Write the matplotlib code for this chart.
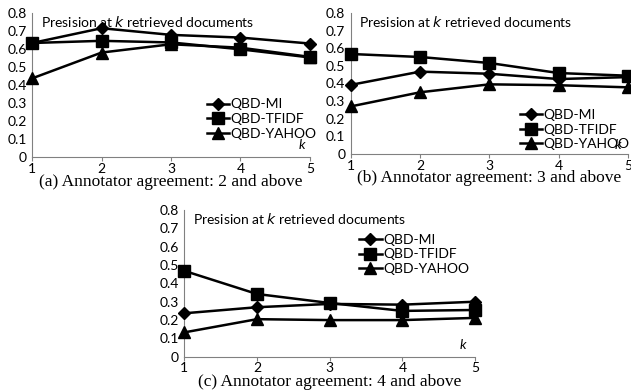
import matplotlib
matplotlib.use("Agg")
import matplotlib.pyplot as plt

k = [1, 2, 3, 4, 5]
series = ["QBD-MI", "QBD-TFIDF", "QBD-YAHOO"]
markers = ["D", "s", "^"]
msizes = [6, 8, 8]

# (a) agreement 2 and above
a_mi = [0.633, 0.715, 0.678, 0.663, 0.630]
a_tfidf = [0.633, 0.645, 0.636, 0.598, 0.553]
a_yahoo = [0.437, 0.580, 0.626, 0.607, 0.556]
# (b) agreement 3 and above
b_mi = [0.392, 0.467, 0.455, 0.425, 0.436]
b_tfidf = [0.567, 0.550, 0.516, 0.459, 0.444]
b_yahoo = [0.270, 0.350, 0.395, 0.390, 0.378]
# (c) agreement 4 and above
c_mi = [0.237, 0.270, 0.288, 0.284, 0.300]
c_tfidf = [0.468, 0.342, 0.293, 0.250, 0.255]
c_yahoo = [0.133, 0.205, 0.200, 0.200, 0.212]

yticks = [0, 0.1, 0.2, 0.3, 0.4, 0.5, 0.6, 0.7, 0.8]
ylabels = ["0", "0.1", "0.2", "0.3", "0.4", "0.5", "0.6", "0.7", "0.8"]

captions = ["(a) Annotator agreement: 2 and above",
            "(b) Annotator agreement: 3 and above",
            "(c) Annotator agreement: 4 and above"]

sans = "Lato"
fig = plt.figure(figsize=(6.31, 3.9), dpi=100)

boxes = [[0.051, 0.597, 0.440, 0.370],
         [0.556, 0.605, 0.439, 0.362],
         [0.292, 0.085, 0.461, 0.377]]
legpos = [(0.605, 0.455), (0.585, 0.37), (0.578, 0.885)]
kpos = [(0.985, 0.04), (0.975, 0.02), (0.97, 0.04)]
data = [(a_mi, a_tfidf, a_yahoo), (b_mi, b_tfidf, b_yahoo), (c_mi, c_tfidf, c_yahoo)]

for i in range(3):
    ax = fig.add_axes(boxes[i])
    for j in range(3):
        ax.plot(k, data[i][j], color="black", lw=1.8, marker=markers[j],
                ms=msizes[j], label=series[j], clip_on=False, zorder=3)
    ax.set_xlim(1, 5)
    ax.set_ylim(0, 0.8)
    ax.set_xticks(k)
    ax.set_yticks(yticks)
    ax.set_yticklabels(ylabels)
    for s in ["top", "right"]:
        ax.spines[s].set_visible(False)
    ax.spines["left"].set_color("#808080")
    ax.spines["bottom"].set_color("#808080")
    ax.tick_params(axis="y", length=0, pad=4, labelsize=10)
    ax.tick_params(axis="x", length=3, pad=1, labelsize=10, color="#808080")
    for t in ax.get_xticklabels() + ax.get_yticklabels():
        t.set_fontfamily(sans)
    ax.text(0.03, 0.99, r"Presision at $\it{k}$ retrieved documents",
            transform=ax.transAxes, fontsize=10, family=sans, va="top")
    ax.text(kpos[i][0], kpos[i][1], "k", style="italic", transform=ax.transAxes,
            fontsize=10, family=sans, ha="right", va="bottom")
    ax.legend(loc="upper left", bbox_to_anchor=legpos[i], frameon=False,
              prop={"family": sans, "size": 10}, handlelength=1.6,
              handletextpad=0.1, borderpad=0, labelspacing=0.2)
    ax.text(0.5, -0.115, captions[i], transform=ax.transAxes, ha="center",
            va="top", fontsize=12.5, family="Liberation Serif")

fig.savefig("out.png", dpi=100)
